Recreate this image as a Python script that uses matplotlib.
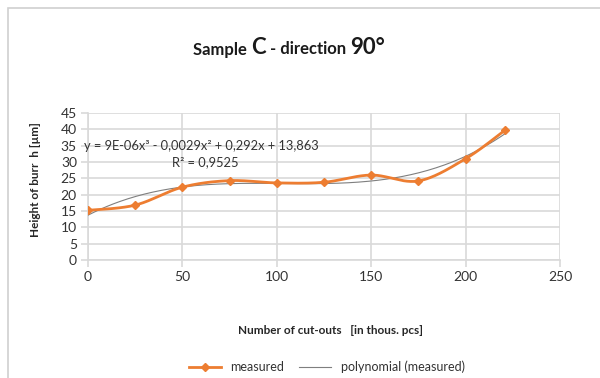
import numpy as np
import matplotlib.pyplot as plt
from matplotlib.offsetbox import TextArea, HPacker, AnchoredOffsetbox
from matplotlib.patches import Rectangle

plt.rcParams['font.family'] = ['Lato', 'DejaVu Sans']

# data
cutouts = [0, 25, 50, 75, 100, 125, 150, 175, 200, 221]
burr_h = [15.2, 16.8, 22.3, 24.3, 23.6, 23.8, 26.0, 24.2, 31.0, 39.8]
x_ticks = [0, 50, 100, 150, 200, 250]
y_ticks = [0, 5, 10, 15, 20, 25, 30, 35, 40, 45]

orange = "#ED7D31"
grid_c = "#D9D9D9"
txt_c = "#333333"


def smooth(xs, ys, n=30):
    # excel-like smoothed line (bezier through the points)
    p = np.column_stack([xs, ys]).astype(float)
    p = np.vstack([p[0], p, p[-1]])
    out = []
    for i in range(1, len(p) - 2):
        p0, p1, p2, p3 = p[i - 1], p[i], p[i + 1], p[i + 2]
        c1 = p1 + (p2 - p0) / 6
        c2 = p2 - (p3 - p1) / 6
        t = np.linspace(0, 1, n)[:, None]
        seg = ((1 - t) ** 3) * p1 + 3 * ((1 - t) ** 2) * t * c1 + 3 * (1 - t) * t ** 2 * c2 + t ** 3 * p2
        out.append(seg if i == 1 else seg[1:])
    seg = np.vstack(out)
    return seg[:, 0], seg[:, 1]


fig = plt.figure(figsize=(6, 3.78), dpi=100)
fig.patches.append(Rectangle((8 / 600, -0.1), 1.2, 1 - 8 / 378 + 0.1, transform=fig.transFigure,
                             fill=False, edgecolor="#D0D0D0", linewidth=1.2))

ax = fig.add_axes([88 / 600, 1 - 260 / 378, 472 / 600, 147 / 378])

# polynomial trendline, 3rd order
coef = np.polyfit(cutouts, burr_h, 3)
xt = np.linspace(cutouts[0], cutouts[-1], 200)
ax.plot(xt, np.polyval(coef, xt), color="#7F7F7F", linewidth=0.8, zorder=3)

sx, sy = smooth(cutouts, burr_h)
ax.plot(sx, sy, color=orange, linewidth=2, zorder=4)
ax.plot(cutouts, burr_h, linestyle="none", marker="D", markersize=4.5, color=orange, zorder=5)

ax.set_xlim(0, 250)
ax.set_ylim(0, 45)
ax.set_xticks(x_ticks)
ax.set_yticks(y_ticks)
ax.grid(True, color=grid_c, linewidth=1.2)
ax.set_axisbelow(True)
for s in ["top", "right"]:
    ax.spines[s].set_visible(False)
for s in ["left", "bottom"]:
    ax.spines[s].set_color(grid_c)
    ax.spines[s].set_linewidth(1.2)
ax.tick_params(colors=grid_c, labelcolor=txt_c, labelsize=10, length=5, width=1.2, pad=3)

ax.text(-2, 34.9, "y = 9E-06x³ - 0,0029x² + 0,292x + 13,863", fontsize=9.3, color=txt_c,
        ha="left", va="center", zorder=6)
ax.text(62, 30.0, "R² = 0,9525", fontsize=9.3, color=txt_c, ha="center", va="center", zorder=6)

ax.set_ylabel("Height of burr  h [µm]", fontsize=8.5, fontweight="bold", color="#262626", labelpad=7)
ax.yaxis.set_label_coords(-0.1, 0.55)
fig.text(330 / 600, 1 - 331 / 378, "Number of cut-outs   [in thous. pcs]", fontsize=8.5,
         fontweight="bold", color="#262626", ha="center", va="center")

# title with mixed sizes
parts = [("Sample ", 12), ("C", 16), (" - direction ", 12), ("90°", 16)]
boxes = [TextArea(s, textprops=dict(fontsize=fs, fontweight="bold", color="#1a1a1a")) for s, fs in parts]
pack = HPacker(children=boxes, align="baseline", pad=0, sep=0)
title = AnchoredOffsetbox(loc="center", child=pack, frameon=False,
                          bbox_to_anchor=(289 / 600, 1 - 48 / 378), bbox_transform=fig.transFigure)
fig.add_artist(title)

h1, = ax.plot([], [], color=orange, linewidth=2, marker="D", markersize=4.5)
h2, = ax.plot([], [], color="#7F7F7F", linewidth=0.8)
fig.legend([h1, h2], ["measured", "polynomial (measured)"], loc="center", ncol=2,
           bbox_to_anchor=(327 / 600, 1 - 367 / 378), frameon=False, fontsize=9,
           handlelength=2.5, columnspacing=1.2, labelcolor=txt_c)

fig.savefig("out.png", dpi=100)
